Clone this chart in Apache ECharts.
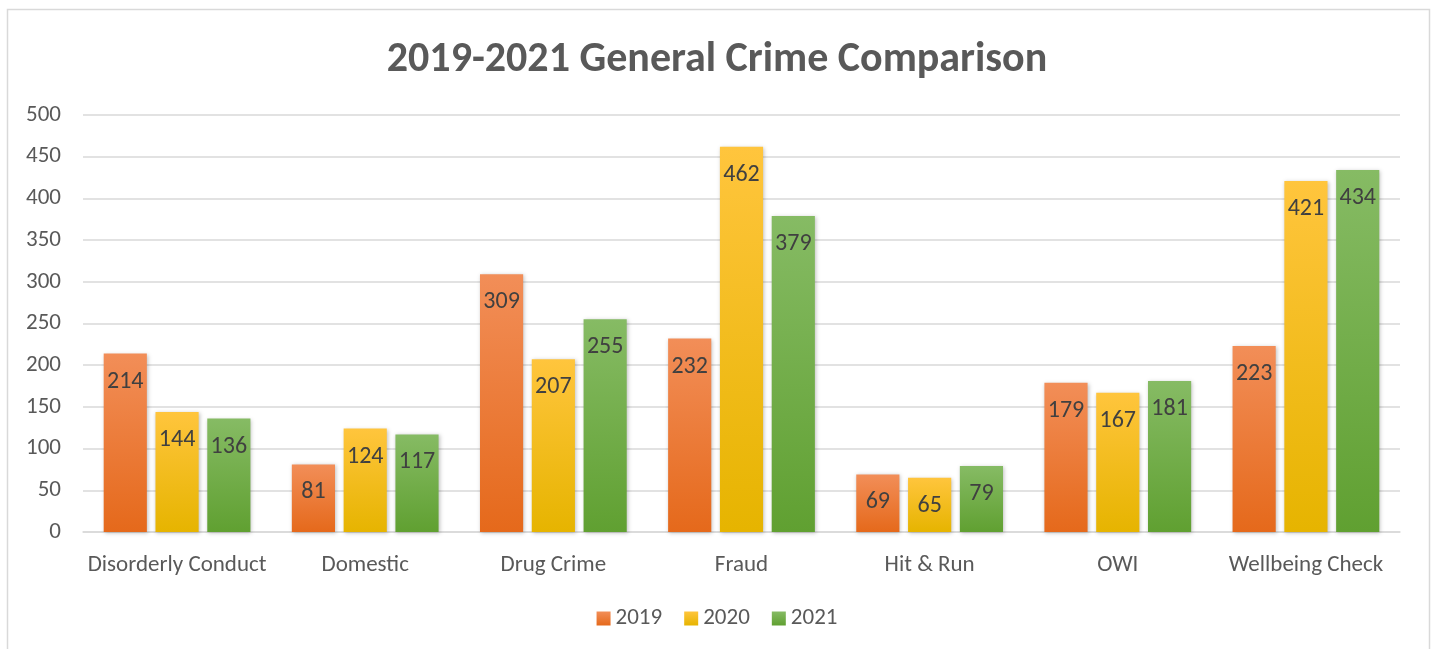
<!DOCTYPE html>
<html>
<head>
<meta charset="utf-8">
<script src="https://cdn.jsdelivr.net/npm/echarts@6/dist/echarts.min.js"></script>
<style>
  html, body { margin: 0; padding: 0; background: #fff; }
  #chart { width: 1434px; height: 649px; }
</style>
</head>
<body>
<div id="chart"></div>
<script>
const categories = ['Disorderly Conduct', 'Domestic', 'Drug Crime', 'Fraud', 'Hit & Run', 'OWI', 'Wellbeing Check'];
const years = ['2019', '2020', '2021'];
const values2019 = [214, 81, 309, 232, 69, 179, 223];
const values2020 = [144, 124, 207, 462, 65, 167, 421];
const values2021 = [136, 117, 255, 379, 79, 181, 434];
const yTicks = { min: 0, max: 500, interval: 50 };

const FONT = 'Carlito, Lato, "Noto Sans", sans-serif';
const TEXT = '#595959';

// top / bottom colours of each series gradient
const colors = [
  ['#f28e58', '#e5691b'],
  ['#ffc53d', '#e6b400'],
  ['#86bb64', '#60a031']
];

function grad(c) {
  return new echarts.graphic.LinearGradient(0, 0, 0, 1, [
    { offset: 0, color: c[0] },
    { offset: 1, color: c[1] }
  ]);
}

const chart = echarts.init(document.getElementById('chart'), null, { renderer: 'canvas' });

const seriesData = [values2019, values2020, values2021];

const option = {
  animation: false,
  title: {
    text: '2019-2021 General Crime Comparison',
    left: 'center',
    top: 34,
    textStyle: { color: TEXT, fontSize: 42, fontWeight: 'bold', fontFamily: FONT }
  },
  graphic: [{
    type: 'rect',
    silent: true,
    shape: { x: 7.5, y: 9.5, width: 1422, height: 660 },
    style: { fill: 'none', stroke: '#d9d9d9', lineWidth: 1.5 }
  }],
  legend: {
    bottom: 14,
    left: 'center',
    itemWidth: 14,
    itemHeight: 14,
    itemGap: 22,
    icon: 'rect',
    textStyle: { color: TEXT, fontSize: 23, fontFamily: FONT }
  },
  grid: { left: 83, right: 34, top: 115, bottom: 117 },
  xAxis: {
    type: 'category',
    data: categories,
    axisLine: { lineStyle: { color: '#d9d9d9', width: 1.5 } },
    axisTick: { show: false },
    axisLabel: { color: TEXT, fontSize: 23, fontFamily: FONT, margin: 22, interval: 0 }
  },
  yAxis: {
    type: 'value',
    min: yTicks.min,
    max: yTicks.max,
    interval: yTicks.interval,
    axisLine: { show: false },
    axisTick: { show: false },
    axisLabel: { color: TEXT, fontSize: 23, fontFamily: FONT, margin: 22 },
    splitLine: { lineStyle: { color: '#d9d9d9', width: 1.5 } }
  },
  series: years.map((y, i) => ({
    name: y,
    type: 'bar',
    data: seriesData[i],
    barGap: '20%',
    barCategoryGap: '22%',
    itemStyle: {
      color: grad(colors[i]),
      shadowColor: 'rgba(0,0,0,0.25)',
      shadowBlur: 4,
      shadowOffsetX: 1,
      shadowOffsetY: 1
    },
    label: {
      show: true,
      position: 'insideTop',
      distance: 16,
      color: '#404040',
      fontSize: 24,
      fontFamily: FONT
    }
  }))
};

chart.setOption(option);
</script>
</body>
</html>
